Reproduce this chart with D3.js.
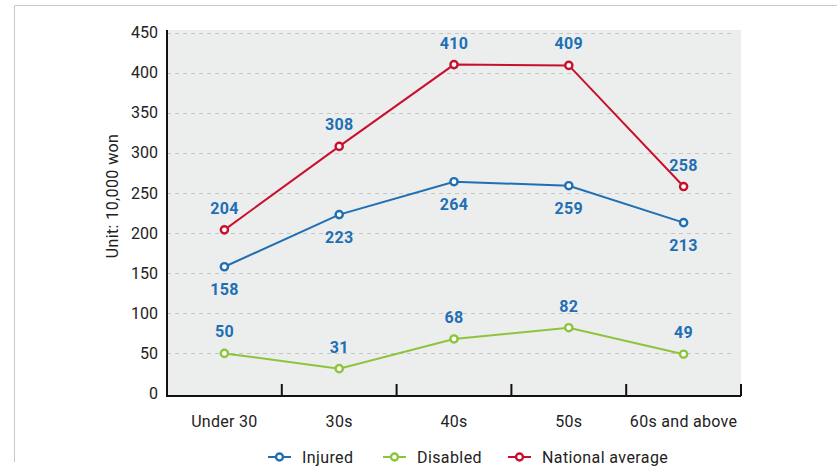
<!DOCTYPE html>
<html>
<head>
<meta charset="utf-8">
<script src="https://cdn.jsdelivr.net/npm/d3@7"></script>
<style>
  body { margin: 0; background: #fff; }
  svg { font-family: Roboto, "Noto Sans", sans-serif; }
</style>
</head>
<body>
<div id="chart"></div>
<script>
// ------- data ------->
const categories = ["Under 30", "30s", "40s", "50s", "60s and above"];
const injured = [158, 223, 264, 259, 213];
const disabled = [50, 31, 68, 82, 49];
const national = [204, 308, 410, 409, 258];
const yTicks = [0, 50, 100, 150, 200, 250, 300, 350, 400, 450];

const seriesNames = ["Injured", "Disabled", "National average"];
const seriesColors = ["#1f6fb4", "#8cc43c", "#c8102e"];
// label above (-1) or below (+1) the point
const labelSide = [1, -1, -1];

const series = [injured, disabled, national].map((vals, i) => ({
  name: seriesNames[i],
  color: seriesColors[i],
  side: labelSide[i],
  values: vals
}));

// ------- svg ------->
const width = 837, height = 467;
const svg = d3.select("#chart").append("svg")
  .attr("width", width)
  .attr("height", height);

// light frame
svg.append("path")
  .attr("d", "M14.5,462 V5.5 H837")
  .attr("fill", "none")
  .attr("stroke", "#c9c9c9")
  .attr("stroke-width", 1);

// ------- scales ------->
const plot = { left: 167, right: 741, top: 30, bottom: 396 };

const x = d3.scaleBand()
  .domain(categories)
  .range([plot.left, plot.right]);

const y = d3.scaleLinear()
  .domain([0, 450])
  .range([393.5, 32.5]);

// background
svg.append("rect")
  .attr("x", plot.left)
  .attr("y", plot.top)
  .attr("width", plot.right - plot.left)
  .attr("height", plot.bottom - plot.top)
  .attr("fill", "#eceded");

// gridlines
svg.append("g")
  .selectAll("line")
  .data(yTicks.filter(t => t > 0))
  .join("line")
  .attr("x1", plot.left)
  .attr("x2", plot.right - 8)
  .attr("y1", d => Math.round(y(d)) + 0.5)
  .attr("y2", d => Math.round(y(d)) + 0.5)
  .attr("stroke", "#c6c6c6")
  .attr("stroke-width", 1)
  .attr("stroke-dasharray", "4,4");

// y axis
const leftAxis = d3.axisLeft(y).tickValues(yTicks).tickSize(0).tickPadding(9);
const gy = svg.append("g")
  .attr("transform", `translate(${plot.left},0)`)
  .call(leftAxis);
gy.select(".domain").remove();
gy.selectAll("text")
  .style("font-family", "Roboto, sans-serif")
  .style("font-size", "16px")
  .attr("fill", "#222");

svg.append("line")
  .attr("x1", plot.left).attr("x2", plot.left)
  .attr("y1", plot.top).attr("y2", plot.bottom + 1)
  .attr("stroke", "#111").attr("stroke-width", 2);

// x axis
svg.append("line")
  .attr("x1", plot.left - 1).attr("x2", plot.right)
  .attr("y1", plot.bottom).attr("y2", plot.bottom)
  .attr("stroke", "#111").attr("stroke-width", 2);

svg.append("g")
  .selectAll("line")
  .data(categories)
  .join("line")
  .attr("x1", d => x(d) + x.bandwidth())
  .attr("x2", d => x(d) + x.bandwidth())
  .attr("y1", plot.bottom)
  .attr("y2", plot.bottom - 12)
  .attr("stroke", "#111")
  .attr("stroke-width", 2);

svg.append("g")
  .selectAll("text")
  .data(categories)
  .join("text")
  .attr("x", d => x(d) + x.bandwidth() / 2)
  .attr("y", 427)
  .attr("text-anchor", "middle")
  .style("font-size", "16px")
  .style("letter-spacing", "0.3px")
  .attr("fill", "#222")
  .text(d => d);

// y title
svg.append("text")
  .attr("transform", "translate(118,196) rotate(-90)")
  .attr("text-anchor", "middle")
  .style("font-size", "16px")
  .style("letter-spacing", "0.4px")
  .attr("fill", "#222")
  .text("Unit: 10,000 won");

// ------- lines ------->
const line = d3.line()
  .x((d, i) => x(categories[i]) + x.bandwidth() / 2)
  .y(d => y(d));

const gs = svg.append("g")
  .selectAll("g")
  .data(series)
  .join("g");

gs.append("path")
  .attr("d", d => line(d.values))
  .attr("fill", "none")
  .attr("stroke", d => d.color)
  .attr("stroke-width", 2);

gs.each(function (s) {
  const g = d3.select(this);
  g.selectAll("circle")
    .data(s.values)
    .join("circle")
    .attr("cx", (d, i) => x(categories[i]) + x.bandwidth() / 2)
    .attr("cy", d => y(d))
    .attr("r", 3.6)
    .attr("fill", "#fff")
    .attr("stroke", s.color)
    .attr("stroke-width", 2.4);

  g.selectAll("text")
    .data(s.values)
    .join("text")
    .attr("x", (d, i) => x(categories[i]) + x.bandwidth() / 2)
    .attr("y", d => y(d) + s.side * 22 + 6)
    .attr("text-anchor", "middle")
    .style("font-size", "16px")
    .style("font-weight", "bold")
    .style("letter-spacing", "0.3px")
    .attr("fill", "#1f6fb4")
    .text(d => d);
});

// ------- legend ------->
const legendX = [268, 383, 508];
const lg = svg.append("g")
  .selectAll("g")
  .data(series)
  .join("g")
  .attr("transform", (d, i) => `translate(${legendX[i]},457)`);

lg.append("line")
  .attr("x1", 0).attr("x2", 23)
  .attr("stroke", d => d.color)
  .attr("stroke-width", 2);
lg.append("circle")
  .attr("cx", 11.5)
  .attr("r", 3.5)
  .attr("fill", "#fff")
  .attr("stroke", d => d.color)
  .attr("stroke-width", 2.4);
lg.append("text")
  .attr("x", 34)
  .attr("y", 5.5)
  .style("font-size", "16px")
  .style("letter-spacing", "0.4px")
  .attr("fill", "#222")
  .text(d => d.name);
</script>
</body>
</html>
